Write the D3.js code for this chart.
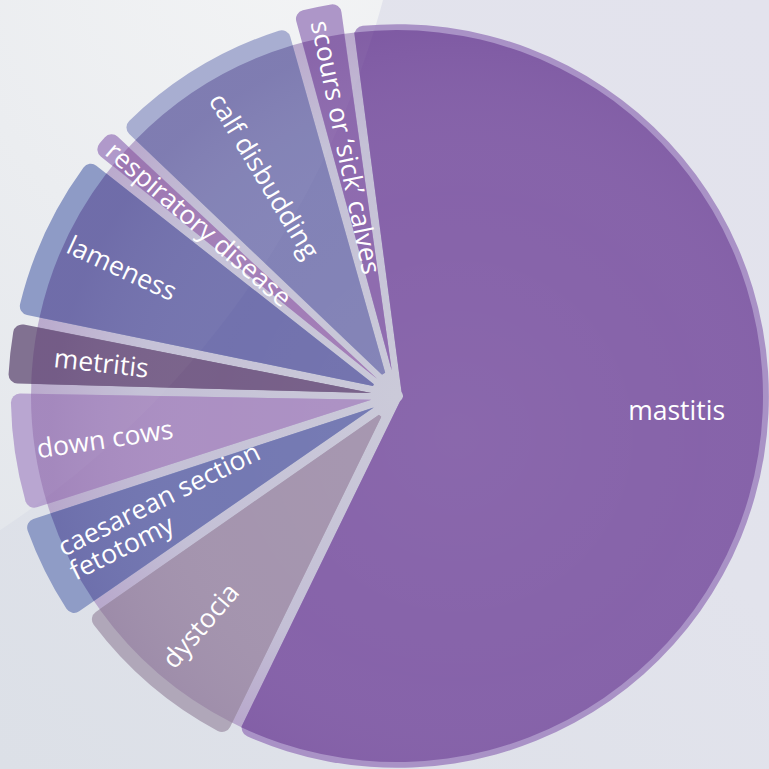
<!DOCTYPE html>
<html>
<head>
<meta charset="utf-8">
<script src="https://cdn.jsdelivr.net/npm/d3@7/dist/d3.min.js"></script>
<style>
    body { margin: 0; background: #e3e3ed; }
    svg { display: block; }
    .label { font-family: "Open Sans", sans-serif; font-size: 26.5px; fill: #fff; }
</style>
</head>
<body>
<div id="chart"></div>
<script>
// slices, clockwise from the top
var categories = ["mastitis", "dystocia", "caesarean section\nfetotomy", "down cows", "metritis",
    "lameness", "respiratory disease", "calf disbudding", "scours or \u2018sick\u2019 calves"];
var shares = [59.3, 8.1, 4.7, 5.3, 2.9, 7.4, 1.5, 8.5, 2.3];     // % of the circle
var extent = [1.016, 1.038, 1.074, 1.055, 1.063, 1.060, 1.066, 1.049, 1.085]; // reach relative to the disc

// inner (over the disc) and outer (band) colours, same order as categories
var fillColours = ["#8460a8", "#a393ad", "#7176b1", "#aa8ec2", "#745c86", "#6f6fac", "#a07ab5", "#8080b5", "#8c68ad"];
var bandColours = ["#a992c6", "#b0a7b9", "#8f9cc6", "#b7a4d0", "#7d6d8e", "#8b98c5", "#ae96c9", "#a6acd0", "#ab93c7"];
// how far in from the rim each label starts
var labelInset = [0, 27, 23, 22, 44, 26, 10, 33, 14];

function init() {
    var w = 769, h = 769;
    var cx = 397, cy = 396;
    var discR = 366;
    var startAngle = -7.5 * Math.PI / 180;

    var data = categories.map(function(c, i) {
        return { name: c, share: shares[i], extent: extent[i], i: i };
    });

    var rScale = d3.scaleLinear().domain([0, 1]).range([0, discR]);
    var fillColour = d3.scaleOrdinal().domain(d3.range(categories.length)).range(fillColours);
    var bandColour = d3.scaleOrdinal().domain(d3.range(categories.length)).range(bandColours);

    var svg = d3.select("#chart").append("svg")
        .attr("width", w)
        .attr("height", h);

    var defs = svg.append("defs");

    // page background
    var bg = defs.append("linearGradient").attr("id", "bg")
        .attr("x1", 0).attr("y1", 1).attr("x2", 1).attr("y2", 0);
    bg.append("stop").attr("offset", "0%").attr("stop-color", "#dce0e7");
    bg.append("stop").attr("offset", "60%").attr("stop-color", "#e2e3ec");
    bg.append("stop").attr("offset", "100%").attr("stop-color", "#e3e3ed");

    var glow = defs.append("radialGradient").attr("id", "glow")
        .attr("gradientUnits", "userSpaceOnUse")
        .attr("cx", 300).attr("cy", -60).attr("r", 700);
    glow.append("stop").attr("offset", "0%").attr("stop-color", "#f3f4f5");
    glow.append("stop").attr("offset", "100%").attr("stop-color", "#e3e6eb");

    var discGrad = defs.append("radialGradient").attr("id", "disc");
    discGrad.append("stop").attr("offset", "0%").attr("stop-color", "#cbcad9");
    discGrad.append("stop").attr("offset", "70%").attr("stop-color", "#c4c0d6");
    discGrad.append("stop").attr("offset", "100%").attr("stop-color", "#b8a8cc");

    // soft shading across the slices
    var shade = defs.append("radialGradient").attr("id", "shade")
        .attr("gradientUnits", "userSpaceOnUse")
        .attr("cx", 60).attr("cy", 40).attr("r", discR + 40);
    shade.append("stop").attr("offset", "0%").attr("stop-color", "#fff").attr("stop-opacity", 0.05);
    shade.append("stop").attr("offset", "60%").attr("stop-color", "#fff").attr("stop-opacity", 0.02);
    shade.append("stop").attr("offset", "100%").attr("stop-color", "#3c1466").attr("stop-opacity", 0.07);

    svg.append("rect").attr("width", w).attr("height", h).attr("fill", "url(#bg)");
    svg.append("circle").attr("cx", -509).attr("cy", -241).attr("r", 924).attr("fill", "url(#glow)");

    var g = svg.append("g").attr("transform", "translate(" + cx + "," + cy + ")");

    g.append("circle").attr("r", discR).attr("fill", "url(#disc)");

    var pie = d3.pie()
        .sort(null)
        .value(function(d) { return d.share; })
        .startAngle(startAngle)
        .endAngle(startAngle + 2 * Math.PI);

    function hub(d) {
        return (d.endAngle - d.startAngle) > Math.PI ? 6 : 26;
    }

    var band = d3.arc()
        .innerRadius(hub)
        .outerRadius(function(d) { return rScale(d.data.extent); })
        .padAngle(0.028)
        .padRadius(360)
        .cornerRadius(9);

    var fill = d3.arc()
        .innerRadius(hub)
        .outerRadius(discR)
        .padAngle(0.028)
        .padRadius(360);

    var arcs = pie(data);

    g.selectAll("path.band")
        .data(arcs)
        .enter().append("path")
        .attr("class", "band")
        .attr("fill", function(d) { return bandColour(d.data.i); })
        .attr("d", band);

    g.selectAll("path.fill")
        .data(arcs)
        .enter().append("path")
        .attr("class", "fill")
        .attr("fill", function(d) { return fillColour(d.data.i); })
        .attr("d", fill);

    g.selectAll("path.shade")
        .data(arcs)
        .enter().append("path")
        .attr("class", "shade")
        .attr("fill", "url(#shade)")
        .attr("d", fill);

    // faint sheen from the background glow over the pie
    svg.append("circle").attr("cx", -509).attr("cy", -241).attr("r", 924)
        .attr("fill", "#fff").attr("fill-opacity", 0.03);

    // labels run along each slice, from the rim towards the centre
    g.selectAll("text.label")
        .data(arcs)
        .enter().append("text")
        .attr("class", "label")
        .each(function(d) {
            var t = d3.select(this);
            var lines = d.data.name.split("\n");
            var span = d.endAngle - d.startAngle;
            var mid = (d.startAngle + d.endAngle) / 2;
            if (span > Math.PI) {
                // the big slice gets a flat label
                var a = 93 * Math.PI / 180, r = 280;
                t.attr("transform", "translate(" + (r * Math.sin(a)) + "," + (-r * Math.cos(a)) + ")")
                    .attr("text-anchor", "middle");
            } else {
                var r2 = rScale(d.data.extent) - labelInset[d.data.i];
                var rot = mid * 180 / Math.PI - 270;
                t.attr("transform", "translate(" + (r2 * Math.sin(mid)) + "," + (-r2 * Math.cos(mid)) + ") rotate(" + rot + ")")
                    .attr("text-anchor", "start");
            }
            lines.forEach(function(line, k) {
                t.append("tspan")
                    .attr("x", 0)
                    .attr("dy", k === 0 ? ((0.35 - (lines.length - 1) * 0.5) + "em") : "1em")
                    .text(line);
            });
        });
}
window.onload = init;
</script>
</body>
</html>
